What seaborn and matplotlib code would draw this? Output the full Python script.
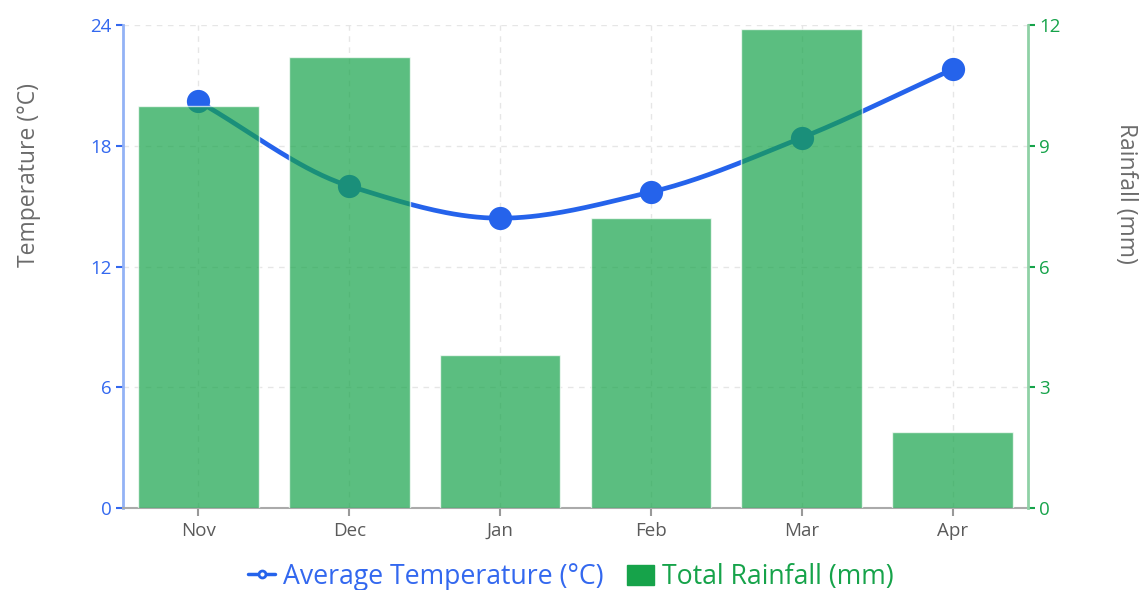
import numpy as np
import pandas as pd
import matplotlib
matplotlib.use("Agg")
import matplotlib.pyplot as plt
from matplotlib.lines import Line2D
from matplotlib.patches import Patch
import seaborn as sns

months = ["Nov", "Dec", "Jan", "Feb", "Mar", "Apr"]
avg_temp = [20.2, 16.0, 14.4, 15.7, 18.4, 21.8]
rainfall = [10.0, 11.2, 3.8, 7.2, 11.9, 1.9]
temp_ticks = [0, 6, 12, 18, 24]
rain_ticks = [0, 3, 6, 9, 12]

BLUE = "#2563eb"
BLUE_TEXT = "#3368ef"
GREEN = "#16a34a"
GRAY = "#6b6b6b"

sns.set_theme(style="white")
plt.rcParams["font.family"] = ["Open Sans", "DejaVu Sans"]


def monotone_curve(y, n=40):
    """Monotone cubic (Fritsch-Carlson) path through equally spaced points."""
    y = np.asarray(y, dtype=float)
    x = np.arange(len(y), dtype=float)
    d = np.diff(y)
    m = np.zeros_like(y)
    m[0], m[-1] = d[0], d[-1]
    for i in range(1, len(y) - 1):
        if d[i - 1] * d[i] <= 0:
            m[i] = 0.0
        else:
            m[i] = 2.0 / (1.0 / d[i - 1] + 1.0 / d[i])
    xs, ys = [], []
    for i in range(len(y) - 1):
        t = np.linspace(0, 1, n)
        h00 = 2 * t**3 - 3 * t**2 + 1
        h10 = t**3 - 2 * t**2 + t
        h01 = -2 * t**3 + 3 * t**2
        h11 = t**3 - t**2
        xs.append(x[i] + t)
        ys.append(h00 * y[i] + h10 * m[i] + h01 * y[i + 1] + h11 * m[i + 1])
    return np.concatenate(xs), np.concatenate(ys)


df = pd.DataFrame({"month": months, "temp": avg_temp, "rain": rainfall,
                   "pos": np.arange(len(months))})

fig, ax = plt.subplots(figsize=(11.42, 5.90), dpi=100)
fig.subplots_adjust(left=0.1077, right=0.9002, top=0.9576, bottom=0.139)

# temperature line (left axis, drawn beneath the translucent bars)
cx, cy = monotone_curve(avg_temp)
ax.plot(cx, cy, color=BLUE, lw=3.4, solid_capstyle="round", zorder=3)
sns.scatterplot(data=df, x="pos", y="temp", ax=ax, color=BLUE, s=280,
                edgecolor=BLUE, linewidth=0, zorder=4, legend=False)

ax.set_ylim(0, 24)
ax.set_yticks(temp_ticks)
ax.set_xlim(-0.5, len(months) - 0.5)
ax.grid(True, color="#e6e6e6", linestyle=(0, (4, 4)), linewidth=1)
ax.set_axisbelow(True)

# rainfall bars (right axis)
ax2 = ax.twinx()
sns.barplot(data=df, x="pos", y="rain", ax=ax2, color=GREEN, alpha=0.7,
            saturation=1, width=0.8, native_scale=True, zorder=2)
ax2.set_ylim(0, 12)
ax2.set_yticks(rain_ticks)
ax2.set_xlim(-0.5, len(months) - 0.5)
ax2.grid(False)

ax.set_xticks(range(len(months)))
ax.set_xticklabels(months)
ax.set_xlabel("")
ax2.set_xlabel("")

ax.set_ylabel("Temperature (°C)", color=GRAY, fontsize=16.5, va="center")
ax.yaxis.set_label_coords(-0.104, 0.69)
ax2.set_ylabel("Rainfall (mm)", color=GRAY, fontsize=16.5, rotation=270,
               va="center")
ax2.yaxis.set_label_coords(1.108, 0.652)

for a in (ax, ax2):
    for s in a.spines.values():
        s.set_visible(False)

ax.spines["left"].set_visible(True)
ax.spines["left"].set_color("#93b2f5")
ax.spines["left"].set_linewidth(2)
ax.spines["bottom"].set_visible(True)
ax.spines["bottom"].set_color("#aaaaaa")
ax.spines["bottom"].set_linewidth(1.5)
ax2.spines["right"].set_visible(True)
ax2.spines["right"].set_color("#8fd1a6")
ax2.spines["right"].set_linewidth(2)

ax.tick_params(axis="y", colors=BLUE_TEXT, labelcolor=BLUE_TEXT,
               labelsize=13.5, length=5, width=1.5, direction="out",
               left=True, pad=3)
ax.tick_params(axis="x", colors="#999999", labelcolor="#5a5a5a",
               labelsize=13.5, length=6, width=1.5, bottom=True, pad=4)
ax2.tick_params(axis="y", colors=GREEN, labelcolor=GREEN, labelsize=13.5,
                length=5, width=1.5, direction="out", right=True, pad=3)

handles = [
    Line2D([0], [0], color=BLUE, lw=2.5, marker="o", markersize=5,
           markerfacecolor="white", markeredgecolor=BLUE, markeredgewidth=2),
    Patch(facecolor=GREEN, edgecolor=GREEN),
]
fig.legend(handles, ["Average Temperature (°C)", "Total Rainfall (mm)"],
           loc="center", bbox_to_anchor=(0.5, 1 - 577 / 590), ncol=2,
           frameon=False, fontsize=19.2, labelcolor=[BLUE_TEXT, GREEN],
           handlelength=1.0, handletextpad=0.3, columnspacing=0.9,
           handleheight=0.8)

fig.savefig("out.png", dpi=100)
